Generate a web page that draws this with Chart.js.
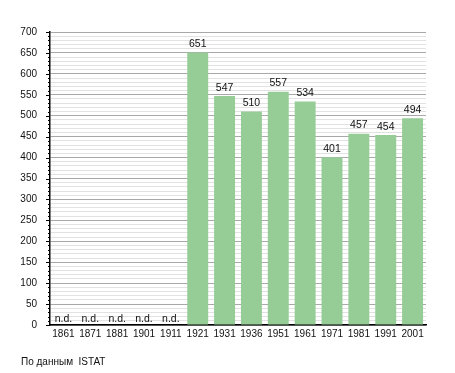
<!DOCTYPE html>
<html>
<head>
<meta charset="utf-8">
<script src="https://cdn.jsdelivr.net/npm/chart.js@4"></script>
<style>
   body { margin: 0; background: #fff; }
   #wrap { position: relative; width: 455px; height: 373px; }
   #note { position: absolute; left: 21px; top: 356px; font: 10px "Liberation Sans", Arial, sans-serif; color: #111; }
</style>
</head>
<body>
<div id="wrap">
   <canvas id="chart" width="455" height="373"></canvas>
   <div id="note">По данным&nbsp; ISTAT</div>
</div>
<script>
const years = ["1861", "1871", "1881", "1901", "1911", "1921", "1931", "1936", "1951", "1961", "1971", "1981", "1991", "2001"];
const population = [null, null, null, null, null, 651, 547, 510, 557, 534, 401, 457, 454, 494];
const yMax = 700;

// labels above bars, "n.d." where there is no value
const barLabels = {
   id: "barLabels",
   afterDatasetsDraw(chart) {
      const ctx = chart.ctx;
      const meta = chart.getDatasetMeta(0);
      const yScale = chart.scales.y;
      ctx.save();
      ctx.font = '10.5px "Liberation Sans", Arial, sans-serif';
      ctx.fillStyle = "#111";
      ctx.textAlign = "center";
      ctx.textBaseline = "bottom";
      meta.data.forEach((bar, i) => {
         const v = population[i];
         if (v === null) {
            ctx.fillText("n.d.", bar.x, yScale.getPixelForValue(0) - 1);
         } else {
            ctx.fillText(String(v), bar.x, bar.y - 3);
         }
      });
      ctx.restore();
   }
};

// y axis tick marks: long ones every 50, short ones every 10
const yTickMarks = {
   id: "yTickMarks",
   afterDraw(chart) {
      const ctx = chart.ctx;
      const y = chart.scales.y;
      const x0 = chart.chartArea.left;
      ctx.save();
      ctx.strokeStyle = "#000";
      ctx.lineWidth = 1;
      y.ticks.forEach((t) => {
         const py = Math.round(y.getPixelForValue(t.value)) + 0.5;
         const len = t.value % 50 === 0 ? 4 : 2;
         ctx.beginPath();
         ctx.moveTo(x0 - len, py);
         ctx.lineTo(x0, py);
         ctx.stroke();
      });
      ctx.restore();
   }
};

new Chart(document.getElementById("chart").getContext("2d"), {
   type: "bar",
   data: {
      labels: years,
      datasets: [{
         data: population,
         backgroundColor: "rgb(150, 205, 150)",
         borderWidth: 0,
         barPercentage: 0.78,
         categoryPercentage: 1.0,
      }],
   },
   options: {
      responsive: false,
      animation: false,
      layout: { padding: { top: 32, right: 29, left: 0, bottom: 0 } },
      plugins: {
         legend: { display: false },
         tooltip: { enabled: false },
      },
      scales: {
         x: {
            grid: { display: false, drawTicks: false },
            border: { color: "#000", width: 1.5 },
            ticks: {
               color: "#111",
               padding: 3,
               maxRotation: 0,
               autoSkip: false,
               font: { family: '"Liberation Sans", Arial, sans-serif', size: 10 },
            },
            afterFit: (scale) => { scale.height = 48; },
         },
         y: {
            min: 0,
            max: yMax,
            border: { color: "#000", width: 1.5 },
            grid: {
               color: (c) => (c.tick && c.tick.value % 50 === 0 ? "#a8a8a8" : "#e2e2e2"),
               drawTicks: false,
               lineWidth: 1,
            },
            ticks: {
               stepSize: 10,
               autoSkip: false,
               color: "#111",
               padding: 13,
               font: { family: '"Liberation Sans", Arial, sans-serif', size: 10 },
               callback: (v) => (v % 50 === 0 ? v : ""),
            },
            afterFit: (scale) => { scale.width = 50; },
         },
      },
   },
   plugins: [barLabels, yTickMarks],
});
</script>
</body>
</html>
